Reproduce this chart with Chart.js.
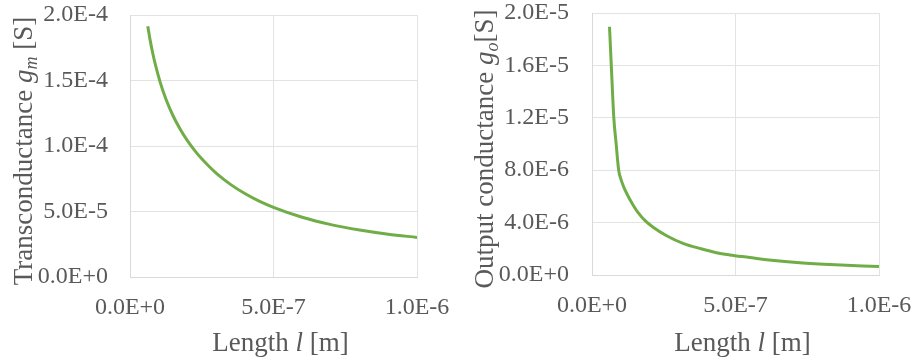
<!DOCTYPE html>
<html>
<head>
<meta charset="utf-8">
<script src="https://cdn.jsdelivr.net/npm/chart.js@4/dist/chart.umd.min.js"></script>
<style>
  body { margin: 0; background: #fff; }
  .wrap { display: flex; width: 920px; height: 363px; }
  .box { width: 460px; height: 363px; }
</style>
</head>
<body>
<div class="wrap">
  <div class="box"><canvas id="gmChart" width="460" height="363"></canvas></div>
  <div class="box"><canvas id="goChart" width="460" height="363"></canvas></div>
</div>
<script>
// values (length in m, conductance in S)
const gmLengths = [62e-9, 70e-9, 80e-9, 90e-9, 105e-9, 125e-9, 150e-9, 175e-9, 200e-9, 225e-9, 250e-9, 275e-9, 300e-9, 350e-9, 400e-9, 450e-9, 500e-9, 600e-9, 700e-9, 800e-9, 900e-9, 1000e-9];
const gmValues = [19.15e-5, 18.1e-5, 17.0e-5, 16.07e-5, 14.88e-5, 13.59e-5, 12.31e-5, 11.28e-5, 10.41e-5, 9.67e-5, 9.02e-5, 8.45e-5, 7.93e-5, 7.07e-5, 6.37e-5, 5.79e-5, 5.32e-5, 4.56e-5, 4.0e-5, 3.59e-5, 3.27e-5, 3.02e-5];

const goLengths = [61e-9, 69e-9, 76e-9, 84e-9, 93e-9, 101e-9, 110e-9, 125e-9, 143e-9, 160e-9, 185e-9, 213e-9, 260e-9, 317e-9, 380e-9, 434e-9, 480e-9, 550e-9, 600e-9, 713e-9, 829e-9, 1000e-9];
const goValues = [18.95e-6, 15.14e-6, 12.0e-6, 10.05e-6, 8.0e-6, 7.3e-6, 6.75e-6, 6.05e-6, 5.35e-6, 4.78e-6, 4.15e-6, 3.65e-6, 3.0e-6, 2.42e-6, 2.0e-6, 1.70e-6, 1.53e-6, 1.33e-6, 1.18e-6, 0.95e-6, 0.80e-6, 0.64e-6];

const xTicks = [0, 5e-7, 1e-6];

const TEXT = '#595959';
const GRID = '#e3e3e3';
const GREEN = '#70ad47';
const SERIF = '"Liberation Serif", "Times New Roman", serif';

function sciLabel(v) {
  return Number(v).toExponential(1).toUpperCase();
}

function partFont(p) {
  return (p.italic ? 'italic ' : '') + (p.size || 27) + 'px ' + SERIF;
}

function drawRich(ctx, parts, cx, baseline) {
  let w = 0;
  parts.forEach(p => { ctx.font = partFont(p); w += ctx.measureText(p.text).width; });
  let x = cx - w / 2;
  ctx.fillStyle = TEXT;
  ctx.textAlign = 'left';
  ctx.textBaseline = 'alphabetic';
  parts.forEach(p => {
    ctx.font = partFont(p);
    ctx.fillText(p.text, x, baseline + (p.dy || 0));
    x += ctx.measureText(p.text).width;
  });
}

// axis titles with italic symbols and subscripts
const richTitles = {
  id: 'richTitles',
  afterDraw(chart, args, opts) {
    const ctx = chart.ctx;
    const a = chart.chartArea;
    ctx.save();
    drawRich(ctx, opts.x, (a.left + a.right) / 2 + opts.xShift, opts.xBase);
    ctx.translate(opts.yPos, (a.top + a.bottom) / 2 + opts.yShift);
    ctx.rotate(-Math.PI / 2);
    drawRich(ctx, opts.y, 0, 0);
    ctx.restore();
  }
};

function makeChart(id, lengths, values, cfg) {
  const points = lengths.map((l, i) => ({ x: l, y: values[i] }));
  return new Chart(document.getElementById(id), {
    type: 'line',
    data: {
      datasets: [{
        data: points,
        borderColor: GREEN,
        borderWidth: 3,
        pointRadius: 0,
        cubicInterpolationMode: 'monotone',
        fill: false
      }]
    },
    options: {
      responsive: false,
      animation: false,
      layout: { padding: { top: cfg.top, right: cfg.right, left: 0, bottom: 0 } },
      plugins: {
        legend: { display: false },
        tooltip: { enabled: false },
        richTitles: cfg.titles
      },
      scales: {
        x: {
          type: 'linear',
          min: 0,
          max: 1e-6,
          afterBuildTicks: axis => { axis.ticks = xTicks.map(v => ({ value: v })); },
          afterFit: axis => {
            axis.height = cfg.xHeight;
            axis.paddingLeft = 0;
            axis.paddingRight = 0;
          },
          ticks: {
            callback: sciLabel,
            color: TEXT,
            padding: 16,
            maxRotation: 0,
            font: { family: SERIF, size: 24 }
          },
          grid: { color: GRID, drawTicks: false },
          border: { color: '#d9d9d9' }
        },
        y: {
          min: 0,
          max: cfg.yMax,
          afterFit: axis => {
            axis.width = cfg.yWidth;
            axis.paddingTop = 0;
            axis.paddingBottom = 0;
          },
          ticks: {
            stepSize: cfg.yStep,
            callback: sciLabel,
            color: TEXT,
            padding: cfg.yPad,
            font: { family: SERIF, size: 24 }
          },
          grid: { color: GRID, drawTicks: false },
          border: { color: '#d9d9d9' }
        }
      }
    },
    plugins: [richTitles]
  });
}

makeChart('gmChart', gmLengths, gmValues, {
  top: 15, right: 43, xHeight: 86, yWidth: 130, yPad: 22,
  yMax: 2e-4, yStep: 5e-5,
  titles: {
    xBase: 351, xShift: 7, yPos: 32, yShift: 5,
    x: [{ text: 'Length ' }, { text: 'l', italic: true }, { text: ' [m]' }],
    y: [{ text: 'Transconductance ' }, { text: 'g', italic: true }, { text: 'm', italic: true, size: 18, dy: 5 }, { text: ' [S]' }]
  }
});

makeChart('goChart', goLengths, goValues, {
  top: 13, right: 41, xHeight: 88, yWidth: 132, yPad: 23,
  yMax: 2e-5, yStep: 4e-6,
  titles: {
    xBase: 351, xShift: 7, yPos: 33, yShift: 5,
    x: [{ text: 'Length ' }, { text: 'l', italic: true }, { text: ' [m]' }],
    y: [{ text: 'Output conductance ' }, { text: 'g', italic: true }, { text: 'o', italic: true, size: 18, dy: 5 }, { text: '[S]' }]
  }
});
</script>
</body>
</html>
